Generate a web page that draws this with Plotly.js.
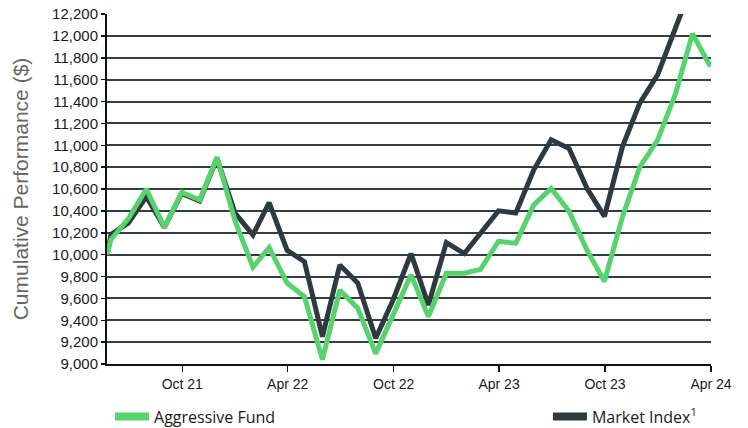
<!DOCTYPE html>
<html>
<head>
<meta charset="utf-8">
<script src="https://cdn.plot.ly/plotly-3.0.1.min.js"></script>
<style>html,body{margin:0;padding:0;background:#fff;}#chart{width:748px;height:428px;}</style>
</head>
<body>
<div id="chart"></div>
<script>
const dates = ['2021-05-24','2021-05-31','2021-06-30','2021-07-31','2021-08-31','2021-09-30','2021-10-31','2021-11-30','2021-12-31',
  '2022-01-31','2022-02-28','2022-03-31','2022-04-30','2022-05-31','2022-06-30','2022-07-31','2022-08-31','2022-09-30','2022-10-31','2022-11-30','2022-12-31',
  '2023-01-31','2023-02-28','2023-03-31','2023-04-30','2023-05-31','2023-06-30','2023-07-31','2023-08-31','2023-09-30','2023-10-31','2023-11-30','2023-12-31',
  '2024-01-31','2024-02-29','2024-03-31'];
const fundValues = [10000,10140,10330,10600,10250,10570,10500,10890,10310,
  9885,10065,9740,9615,9040,9675,9510,9095,9460,9815,9435,9830,
  9830,9865,10120,10105,10455,10605,10395,10040,9755,10345,10800,11050,
  11475,12020,11720];
const indexValues = [10000,10185,10290,10530,10250,10560,10490,10880,10380,
  10180,10475,10040,9935,9250,9905,9740,9235,9585,10010,9540,10110,
  10010,10195,10400,10380,10775,11050,10970,10605,10350,10985,11385,11645,
  12065,12480,12400];
const fundName = 'Aggressive Fund';
const indexName = 'Market Index<sup>1</sup>';
const xTickStart = '2021-10-01';
const yTickStep = 200;

const green = '#56d36c';
const dark = '#2e3a40';

const traces = [
  {x: dates, y: indexValues, type: 'scatter', mode: 'lines', line: {color: dark, width: 5}, showlegend: false, hoverinfo: 'skip'},
  {x: dates, y: fundValues, type: 'scatter', mode: 'lines', line: {color: green, width: 5}, showlegend: false, hoverinfo: 'skip'},
  {x: [null], y: [null], type: 'scatter', mode: 'lines', name: fundName, line: {color: green, width: 8}, legend: 'legend'},
  {x: [null], y: [null], type: 'scatter', mode: 'lines', name: indexName, line: {color: dark, width: 8}, legend: 'legend2'}
];

const legendFont = {family: 'Open Sans, sans-serif', size: 16, color: '#1a1a1a'};

const layout = {
  width: 748, height: 428,
  margin: {l: 107, r: 37, t: 14, b: 64, autoexpand: false},
  paper_bgcolor: '#fff', plot_bgcolor: '#fff',
  font: {family: 'Liberation Sans, Arial, sans-serif', color: '#1a1a1a', size: 14},
  xaxis: {
    type: 'date',
    range: ['2021-05-24', '2024-04-01'],
    tick0: xTickStart, dtick: 'M6', tickformat: '%b %y',
    showgrid: false, zeroline: false,
    showline: true, linecolor: '#111', linewidth: 2,
    ticks: 'outside', ticklen: 6, tickwidth: 1.5, tickcolor: '#111',
    tickfont: {size: 14, color: '#1a1a1a'},
    automargin: false
  },
  yaxis: {
    range: [9000, 12200], dtick: yTickStep, tick0: 9000, tickformat: ',',
    showgrid: true, gridcolor: '#333d44', gridwidth: 2,
    zeroline: false,
    showline: true, linecolor: '#111', linewidth: 2,
    ticks: 'outside', ticklen: 4, tickwidth: 1.5, tickcolor: '#111',
    tickfont: {size: 15, color: '#1a1a1a'},
    title: {text: 'Cumulative Performance ($)', font: {size: 21, color: '#666'}, standoff: 18},
    automargin: false
  },
  legend: {x: 0.005, xanchor: 'left', y: -0.15, yanchor: 'middle', orientation: 'h', font: legendFont, bgcolor: 'rgba(0,0,0,0)', itemwidth: 34},
  legend2: {x: 0.73, xanchor: 'left', y: -0.15, yanchor: 'middle', orientation: 'h', font: legendFont, bgcolor: 'rgba(0,0,0,0)', itemwidth: 34},
  showlegend: true
};

Plotly.newPlot('chart', traces, layout, {staticPlot: true, displayModeBar: false});
</script>
</body>
</html>
